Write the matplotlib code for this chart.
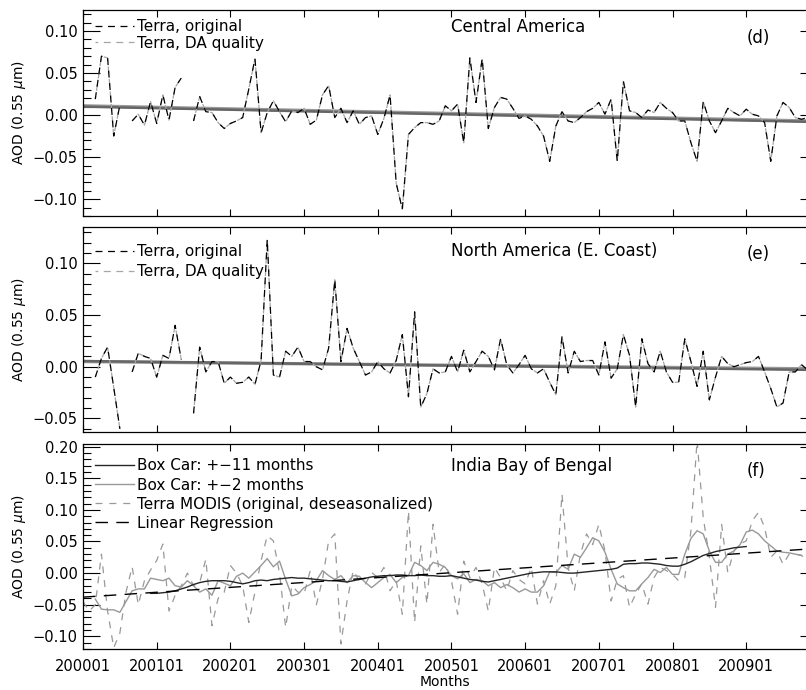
import numpy as np
import matplotlib.pyplot as plt
from matplotlib.ticker import MultipleLocator, FuncFormatter

nan = np.nan

# months since 2000-01
months = np.arange(120)
tick_months = np.arange(0, 120, 12)
tick_labels = ['200001', '200101', '200201', '200301', '200401',
               '200501', '200601', '200701', '200801', '200901']

# (d) Central America, deseasonalized AOD
central_orig = [
    nan, nan, 0.019, 0.070, 0.068, -0.025, 0.012, nan, -0.007, 0.001, -0.012, 0.016,
    -0.010, 0.024, -0.006, 0.033, 0.044, nan, -0.007, 0.022, 0.004, 0.003, -0.009, -0.016,
    -0.010, -0.007, -0.003, 0.031, 0.067, -0.021, 0.003, 0.017, 0.004, -0.008, 0.005, 0.003,
    0.008, -0.011, -0.006, 0.024, 0.035, -0.003, 0.008, -0.009, 0.005, -0.011, -0.003, -0.001,
    -0.023, -0.004, 0.024, -0.081, -0.112, -0.023, -0.015, -0.009, -0.009, -0.011, -0.007, 0.011,
    0.005, 0.013, -0.033, 0.068, 0.015, 0.067, -0.016, 0.009, 0.021, 0.019, 0.008, -0.004,
    -0.001, -0.005, -0.013, -0.025, -0.055, -0.013, 0.004, -0.007, -0.009, -0.003, 0.004, 0.008,
    0.015, 0.001, 0.019, -0.055, 0.040, 0.005, 0.003, -0.003, 0.006, 0.003, 0.015, 0.008,
    0.003, -0.007, -0.007, -0.033, -0.055, 0.016, -0.007, -0.021, -0.007, 0.008, 0.003, -0.001,
    0.007, 0.001, -0.001, -0.009, -0.055, -0.001, 0.015, 0.009, -0.003, -0.005, -0.003, nan]
central_da = list(central_orig)
fit_x = [0, 118]
central_fit_orig = [0.010, -0.008]
central_fit_da = [0.011, -0.007]

# (e) North America (E. Coast)
east_orig = [
    nan, nan, -0.010, 0.008, 0.019, -0.020, -0.060, nan, -0.005, 0.013, 0.010, 0.008,
    -0.010, 0.011, 0.008, 0.040, 0.007, nan, -0.045, 0.019, -0.005, 0.005, 0.005, -0.016,
    -0.010, -0.016, -0.015, -0.010, -0.017, 0.006, 0.123, -0.008, -0.010, 0.015, 0.010, 0.019,
    0.005, 0.005, 0.000, -0.003, 0.018, 0.084, 0.005, 0.037, 0.018, 0.005, -0.008, -0.005,
    0.005, -0.002, -0.006, 0.006, 0.031, -0.029, 0.053, -0.039, -0.026, -0.002, -0.006, -0.005,
    0.010, -0.005, 0.016, -0.005, 0.005, 0.015, 0.010, -0.003, 0.027, 0.002, -0.006, 0.002,
    0.011, -0.002, -0.006, -0.002, -0.015, -0.027, 0.029, -0.006, 0.015, 0.005, 0.006, 0.006,
    -0.008, 0.024, -0.011, -0.002, 0.031, 0.011, -0.039, 0.027, 0.003, -0.005, 0.015, -0.005,
    -0.015, -0.015, 0.027, 0.005, -0.019, 0.015, -0.032, -0.010, 0.010, 0.003, 0.000, 0.002,
    0.004, 0.005, 0.010, -0.005, -0.021, -0.039, -0.035, -0.005, -0.005, 0.002, -0.003, nan]
east_da = list(east_orig)
east_fit_orig = [0.0055, -0.003]
east_fit_da = [0.0050, -0.002]

# (f) India Bay of Bengal
india_terra = [
    -0.045, -0.060, -0.050, 0.030, -0.060, -0.118, -0.095, -0.030, 0.010, -0.050, -0.012, 0.005,
    0.020, 0.046, -0.060, -0.035, -0.020, 0.000, -0.020, -0.015, 0.022, -0.083, -0.040, -0.030,
    0.012, 0.000, -0.020, -0.078, -0.030, 0.020, 0.059, 0.051, 0.000, -0.086, -0.020, -0.030,
    -0.033, 0.004, -0.050, -0.010, 0.051, 0.062, -0.112, -0.044, 0.004, -0.012, -0.017, 0.001,
    -0.007, 0.009, -0.028, -0.012, -0.065, 0.098, -0.078, 0.043, -0.049, 0.077, 0.001, 0.014,
    -0.012, -0.065, 0.019, -0.007, 0.009, -0.017, -0.060, 0.009, -0.007, -0.028, 0.004, -0.010,
    -0.017, 0.009, -0.049, -0.012, -0.049, -0.020, 0.125, 0.009, -0.028, 0.030, 0.062, 0.045,
    0.077, 0.035, -0.044, -0.010, -0.004, -0.054, -0.033, -0.017, -0.049, -0.007, 0.009, 0.004,
    -0.002, -0.012, -0.007, 0.067, 0.210, 0.088, 0.025, -0.054, 0.077, 0.001, 0.035, 0.046,
    0.051, 0.083, 0.096, 0.072, 0.025, 0.035, 0.014, 0.030, 0.030, 0.028, 0.020, 0.030]
india_box2 = [
    nan, nan, -0.041, -0.057, -0.058, -0.058, -0.062, -0.045, -0.028, -0.025, -0.025, -0.008,
    -0.010, -0.012, -0.008, -0.020, -0.022, -0.012, -0.020, -0.030, -0.025, -0.035, -0.012, -0.016,
    -0.020, -0.005, 0.000, -0.008, 0.002, 0.012, 0.023, 0.010, 0.019, -0.010, -0.036, -0.033,
    -0.023, -0.018, -0.012, 0.004, -0.004, -0.010, -0.004, -0.015, -0.004, -0.005, -0.015, -0.023,
    -0.015, -0.007, -0.002, -0.015, -0.007, -0.004, 0.017, 0.012, 0.004, 0.017, 0.014, 0.009,
    -0.004, -0.009, -0.001, -0.015, -0.010, -0.012, -0.020, -0.015, -0.023, -0.018, -0.023, -0.030,
    -0.025, -0.030, -0.030, -0.020, 0.002, 0.001, 0.012, 0.006, 0.030, 0.025, 0.040, 0.056,
    0.051, 0.033, 0.006, -0.017, -0.023, -0.028, -0.028, -0.017, -0.007, 0.006, 0.001, 0.009,
    -0.002, -0.002, 0.030, 0.055, 0.067, 0.062, 0.035, 0.017, 0.017, 0.030, 0.035, 0.045,
    0.065, 0.068, 0.062, 0.051, 0.043, 0.035, 0.033, 0.032, 0.030, 0.028, nan, nan]
india_box11 = [
    nan, nan, nan, nan, nan, nan, nan, nan, nan, nan, nan, -0.032,
    -0.032, -0.031, -0.030, -0.028, -0.025, -0.022, -0.018, -0.015, -0.013, -0.012, -0.012, -0.012,
    -0.013, -0.015, -0.017, -0.015, -0.012, -0.011, -0.012, -0.010, -0.009, -0.008, -0.007, -0.008,
    -0.008, -0.009, -0.010, -0.011, -0.012, -0.012, -0.013, -0.014, -0.012, -0.010, -0.008, -0.006,
    -0.005, -0.004, -0.004, -0.003, -0.003, -0.004, -0.004, -0.003, -0.004, -0.004, -0.005, -0.005,
    -0.004, -0.006, -0.008, -0.010, -0.011, -0.013, -0.014, -0.012, -0.010, -0.008, -0.006, -0.004,
    -0.002, 0.000, 0.001, 0.002, 0.002, 0.002, 0.001, 0.000, 0.000, 0.001, 0.002, 0.003,
    0.004, 0.005, 0.006, 0.008, 0.014, 0.015, 0.015, 0.016, 0.016, 0.015, 0.014, 0.012,
    0.011, 0.011, 0.014, 0.018, 0.023, 0.028, 0.031, 0.034, 0.036, 0.038, 0.040, 0.041,
    0.042, nan, nan, nan, nan, nan, nan, nan, nan, nan, nan, nan]
india_fit = [-0.038, 0.038]

plt.rcParams['font.family'] = 'DejaVu Sans'
plt.rcParams['lines.scale_dashes'] = False

fig = plt.figure(figsize=(8.06, 6.90), dpi=100)
ax1 = fig.add_axes([0.103, 0.687, 0.899, 0.2986])
ax2 = fig.add_axes([0.103, 0.374, 0.899, 0.297])
ax3 = fig.add_axes([0.103, 0.0594, 0.899, 0.297])


def minus_fmt(v, pos):
    return f'{v:.2f}'.replace('-', '\u2212')


def style(ax, ylim, yticks):
    ax.set_xlim(0, 118)
    ax.set_ylim(*ylim)
    ax.set_xticks(tick_months)
    ax.set_yticks(yticks)
    ax.yaxis.set_minor_locator(MultipleLocator(0.01))
    ax.yaxis.set_major_formatter(FuncFormatter(minus_fmt))
    ax.tick_params(axis='x', direction='in', top=True, bottom=True, length=5,
                   width=0.8, labelsize=10.5, pad=7)
    ax.tick_params(axis='y', which='major', direction='in', left=True, right=False,
                   length=12, width=0.8, labelsize=10.5, pad=4)
    ax.tick_params(axis='y', which='minor', direction='in', left=True, right=False,
                   length=6, width=0.8)
    sec = ax.secondary_yaxis('right')
    sec.set_yticks(yticks)
    sec.tick_params(direction='in', length=6, width=0.8, labelright=False)
    for s in ax.spines.values():
        s.set_linewidth(0.9)
    ax.set_ylabel('AOD (0.55 $\\mu$m)', fontsize=10)
    ax.yaxis.set_label_coords(-0.076, 0.5)


def two_dashed(ax, orig, da, fit_orig, fit_da):
    ax.plot(fit_x, fit_da, color='0.6', lw=2.4)
    ax.plot(fit_x, fit_orig, color='0.4', lw=1.8)
    ax.plot(months, da, color='0.65', lw=0.9, linestyle=(3, (5, 4)), label='Terra, DA quality')
    ax.plot(months, orig, color='black', lw=0.9, linestyle=(0, (5, 4)), label='Terra, original')


def legend(ax, handles, labels, y, spacing):
    ax.legend(handles, labels, loc='upper left', bbox_to_anchor=(0.017, y), frameon=False,
              fontsize=11, handlelength=2.5, handletextpad=0.25, labelspacing=spacing,
              borderpad=0, borderaxespad=0)


two_dashed(ax1, central_orig, central_da, central_fit_orig, central_fit_da)
style(ax1, (-0.12, 0.125), [-0.10, -0.05, 0.00, 0.05, 0.10])
ax1.set_xticklabels([])
h, l = ax1.get_legend_handles_labels()
legend(ax1, h[::-1], l[::-1], 0.955, 0.1)
ax1.text(60, 0.918, 'Central America', transform=ax1.get_xaxis_transform(),
         fontsize=12, va='center', ha='left')
ax1.text(108, 0.862, '(d)', transform=ax1.get_xaxis_transform(),
         fontsize=12, va='center', ha='left')

two_dashed(ax2, east_orig, east_da, east_fit_orig, east_fit_da)
style(ax2, (-0.063, 0.135), [-0.05, 0.00, 0.05, 0.10])
ax2.set_xticklabels([])
h, l = ax2.get_legend_handles_labels()
legend(ax2, h[::-1], l[::-1], 0.915, 0.3)
ax2.text(60, 0.885, 'North America (E. Coast)', transform=ax2.get_xaxis_transform(),
         fontsize=12, va='center', ha='left')
ax2.text(108, 0.868, '(e)', transform=ax2.get_xaxis_transform(),
         fontsize=12, va='center', ha='left')

l_terra, = ax3.plot(months, india_terra, color='0.6', lw=0.9, linestyle=(0, (5, 5)))
l_box2, = ax3.plot(months, india_box2, color='0.6', lw=1.0)
l_box11, = ax3.plot(months, india_box11, color='0.15', lw=1.0)
l_fit, = ax3.plot(fit_x, india_fit, color='black', lw=1.0, linestyle=(0, (9, 6)))
style(ax3, (-0.12, 0.204), [-0.10, -0.05, 0.00, 0.05, 0.10, 0.15, 0.20])
ax3.set_xticklabels(tick_labels)
ax3.set_xlabel('Months', fontsize=10, labelpad=1)
legend(ax3, [l_box11, l_box2, l_terra, l_fit],
       ['Box Car: +\u221211 months', 'Box Car: +\u22122 months',
        'Terra MODIS (original, deseasonalized)', 'Linear Regression'], 0.93, 0.27)
ax3.text(60, 0.895, 'India Bay of Bengal', transform=ax3.get_xaxis_transform(),
         fontsize=12, va='center', ha='left')
ax3.text(108, 0.868, '(f)', transform=ax3.get_xaxis_transform(),
         fontsize=12, va='center', ha='left')

fig.savefig('out.png', dpi=100)
